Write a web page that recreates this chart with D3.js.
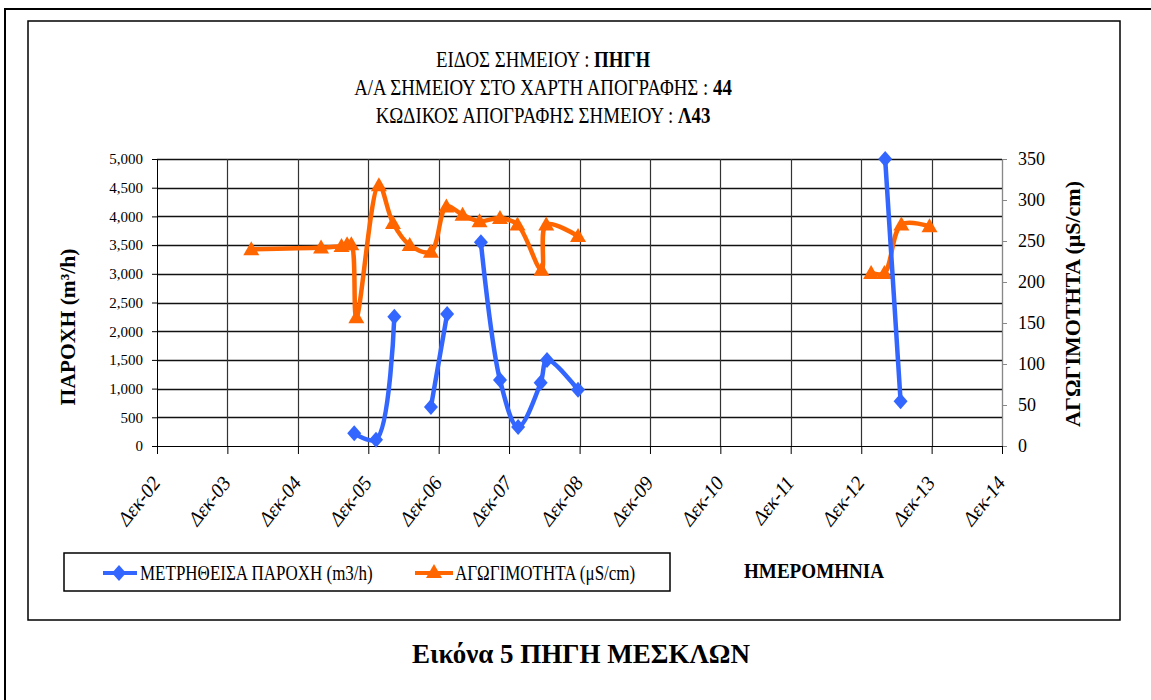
<!DOCTYPE html>
<html>
<head>
<meta charset="utf-8">
<script src="https://cdn.jsdelivr.net/npm/d3@7"></script>
<style>
  body { margin: 0; background: #fff; }
  svg { display: block; font-family: "Liberation Serif", "Times New Roman", serif; }
</style>
</head>
<body>
<div id="chart"></div>
<script>
// chart values (null = empty cell, line breaks there)
var flowDates = ["2005-09-19", "2006-01-10", "2006-04-15", "2006-07-01", "2006-10-22", "2007-01-14",
                 "2007-04-01", "2007-07-08", "2007-10-15", "2008-01-17", "2008-05-13", "2008-06-15",
                 "2008-11-23", "2010-12-01", "2013-04-04", "2013-06-23"];
var flowValues = [220, 110, 2250, null, 680, 2300, null, 3550, 1150, 330, 1100, 1500, 980, null, 5000, 780];

var condDates = ["2004-04-03", "2005-03-31", "2005-07-15", "2005-08-13", "2005-09-04", "2005-09-30",
                 "2006-01-25", "2006-04-08", "2006-07-04", "2006-10-22", "2007-01-10", "2007-04-04",
                 "2007-07-01", "2007-10-15", "2008-01-14", "2008-05-17", "2008-06-11", "2008-11-23",
                 "2010-12-01", "2013-01-21", "2013-03-31", "2013-06-27", "2013-11-20"];
var condValues = [240, 242, 244, 246, 246, 157, 318, 272, 245, 237, 292, 282, 274, 278, 270, 215, 270, 256,
                  null, 211, 211, 270, 268];

var xTicks = ["2002-12-01", "2003-12-01", "2004-12-01", "2005-12-01", "2006-12-01", "2007-12-01", "2008-12-01",
              "2009-12-01", "2010-12-01", "2011-12-01", "2012-12-01", "2013-12-01", "2014-12-01"];
var leftTicks = [0, 500, 1000, 1500, 2000, 2500, 3000, 3500, 4000, 4500, 5000];
var rightTicks = [0, 50, 100, 150, 200, 250, 300, 350];

var titleLines = [["ΕΙΔΟΣ ΣΗΜΕΙΟΥ : ", "ΠΗΓΗ"],
                  ["Α/Α ΣΗΜΕΙΟΥ ΣΤΟ ΧΑΡΤΗ ΑΠΟΓΡΑΦΗΣ : ", "44"],
                  ["ΚΩΔΙΚΟΣ ΑΠΟΓΡΑΦΗΣ ΣΗΜΕΙΟΥ : ", "Λ43"]];
var flowName = "ΜΕΤΡΗΘΕΙΣΑ  ΠΑΡΟΧΗ (m3/h)";
var condName = "ΑΓΩΓΙΜΟΤΗΤΑ (μS/cm)";
var caption = "Εικόνα 5 ΠΗΓΗ ΜΕΣΚΛΩΝ";

var blue = "#3366ff", orange = "#ff6600";
var parse = d3.timeParse("%Y-%m-%d");

var svg = d3.select("#chart").append("svg")
    .attr("width", 1151)
    .attr("height", 700);

// outer page frame and chart frame
svg.append("path").attr("d", "M5,700V9H1151").attr("fill", "none").attr("stroke", "#000").attr("stroke-width", 2);
svg.append("rect").attr("x", 28).attr("y", 21).attr("width", 1092).attr("height", 599)
    .attr("fill", "none").attr("stroke", "#000").attr("stroke-width", 1.5);

// plot area
var pLeft = 157, pRight = 1002, pTop = 159, pBottom = 446;

var x = d3.scaleTime()
    .domain([parse(xTicks[0]), parse(xTicks[xTicks.length - 1])])
    .range([pLeft, pRight]);
var yL = d3.scaleLinear().domain([0, 5000]).range([pBottom, pTop]);
var yR = d3.scaleLinear().domain([0, 350]).range([pBottom, pTop]);

// grid
svg.append("g").selectAll("line").data(leftTicks.slice(1)).enter().append("line")
    .attr("x1", pLeft).attr("x2", pRight)
    .attr("y1", function(d) { return Math.round(yL(d)) + 0.5; })
    .attr("y2", function(d) { return Math.round(yL(d)) + 0.5; })
    .attr("stroke", "#111").attr("stroke-width", 1.4);
svg.append("g").selectAll("line").data(xTicks.slice(1)).enter().append("line")
    .attr("x1", function(d) { return Math.round(x(parse(d))) + 0.5; })
    .attr("x2", function(d) { return Math.round(x(parse(d))) + 0.5; })
    .attr("y1", pTop).attr("y2", pBottom)
    .attr("stroke", "#333").attr("stroke-width", 1.2);

// axes
var axL = svg.append("g")
    .attr("transform", "translate(" + pLeft + ",0)")
    .call(d3.axisLeft(yL).tickValues(leftTicks).tickFormat(d3.format(",")).tickSize(5).tickSizeOuter(0).tickPadding(9));
axL.attr("font-family", null).attr("font-size", null);
axL.selectAll("text").style("font-size", "15px").attr("fill", "#000");
axL.selectAll("line,path").attr("stroke", "#000");

var axR = svg.append("g")
    .attr("transform", "translate(" + pRight + ",0)")
    .call(d3.axisRight(yR).tickValues(rightTicks).tickSize(5).tickSizeOuter(0).tickPadding(11));
axR.attr("font-family", null).attr("font-size", null);
axR.selectAll("text").style("font-size", "18px").attr("fill", "#000");
axR.selectAll("line,path").attr("stroke", "#888");

var axB = svg.append("g")
    .attr("transform", "translate(0," + pBottom + ")")
    .call(d3.axisBottom(x).tickValues(xTicks.map(parse)).tickSize(8).tickSizeOuter(0)
      .tickFormat(function(d) { return "Δεκ-" + d3.timeFormat("%y")(d); }));
axB.attr("font-family", null).attr("font-size", null);
axB.selectAll("line,path").attr("stroke", "#000");
axB.selectAll("text")
    .style("font-size", "20px").style("font-style", "italic").attr("fill", "#000")
    .attr("text-anchor", "end")
    .attr("dy", null).attr("y", null)
    .attr("transform", "translate(4,37) rotate(-52)");

// series
var flow = flowDates.map(function(d, i) { return {date: parse(d), v: flowValues[i]}; });
var cond = condDates.map(function(d, i) { return {date: parse(d), v: condValues[i]}; });

var lineL = d3.line()
    .defined(function(d) { return d.v != null; })
    .x(function(d) { return x(d.date); })
    .y(function(d) { return yL(d.v); })
    .curve(d3.curveCatmullRom.alpha(0.5));
var lineR = d3.line()
    .defined(function(d) { return d.v != null; })
    .x(function(d) { return x(d.date); })
    .y(function(d) { return yR(d.v); })
    .curve(d3.curveCatmullRom.alpha(0.5));

var diamond = "M0,-8L7,0L0,8L-7,0Z";
var triangle = "M0,-8L8,6L-8,6Z";

svg.append("path").datum(cond).attr("d", lineR)
    .attr("fill", "none").attr("stroke", orange).attr("stroke-width", 4.5).attr("stroke-linejoin", "round");
svg.append("g").selectAll("path").data(cond.filter(function(d) { return d.v != null; })).enter().append("path")
    .attr("d", triangle).attr("fill", orange)
    .attr("transform", function(d) { return "translate(" + x(d.date) + "," + yR(d.v) + ")"; });

svg.append("path").datum(flow).attr("d", lineL)
    .attr("fill", "none").attr("stroke", blue).attr("stroke-width", 4.5).attr("stroke-linejoin", "round");
svg.append("g").selectAll("path").data(flow.filter(function(d) { return d.v != null; })).enter().append("path")
    .attr("d", diamond).attr("fill", blue)
    .attr("transform", function(d) { return "translate(" + x(d.date) + "," + yL(d.v) + ")"; });

// titles (the source picture is horizontally squeezed, hence the x scale)
var tBase = [67, 95, 123];
titleLines.forEach(function(parts, i) {
  var t = svg.append("text")
      .attr("transform", "translate(543," + tBase[i] + ") scale(0.82,1)")
      .attr("text-anchor", "middle").style("font-size", "23px");
  t.append("tspan").text(parts[0]);
  t.append("tspan").style("font-weight", "bold").text(parts[1]);
});

svg.append("text")
    .attr("transform", "translate(75,327) rotate(-90)")
    .attr("text-anchor", "middle").style("font-size", "21.6px").style("font-weight", "bold")
    .text("ΠΑΡΟΧΗ (m³/h)");
svg.append("text")
    .attr("transform", "translate(1080,304) rotate(-90)")
    .attr("text-anchor", "middle").style("font-size", "22px").style("font-weight", "bold")
    .text(condName);

svg.append("text")
    .attr("transform", "translate(744,578) scale(0.91,1)")
    .style("font-size", "21px").style("font-weight", "bold")
    .text("ΗΜΕΡΟΜΗΝΙΑ");

// legend
var leg = svg.append("g");
leg.append("rect").attr("x", 64).attr("y", 553).attr("width", 606).attr("height", 38)
    .attr("fill", "none").attr("stroke", "#000").attr("stroke-width", 1.5);
leg.append("line").attr("x1", 103).attr("x2", 137).attr("y1", 573).attr("y2", 573)
    .attr("stroke", blue).attr("stroke-width", 4);
leg.append("path").attr("d", diamond).attr("fill", blue).attr("transform", "translate(119,573)");
leg.append("text").attr("transform", "translate(140,580) scale(0.81,1)").style("font-size", "21px").text(flowName);
leg.append("line").attr("x1", 415).attr("x2", 453).attr("y1", 573).attr("y2", 573)
    .attr("stroke", orange).attr("stroke-width", 4);
leg.append("path").attr("d", triangle).attr("fill", orange).attr("transform", "translate(434,572)");
leg.append("text").attr("transform", "translate(455,580) scale(0.81,1)").style("font-size", "21px").text(condName);

// caption under the chart
svg.append("text")
    .attr("x", 581).attr("y", 663)
    .attr("text-anchor", "middle").style("font-size", "27px").style("font-weight", "bold")
    .text(caption);
</script>
</body>
</html>
